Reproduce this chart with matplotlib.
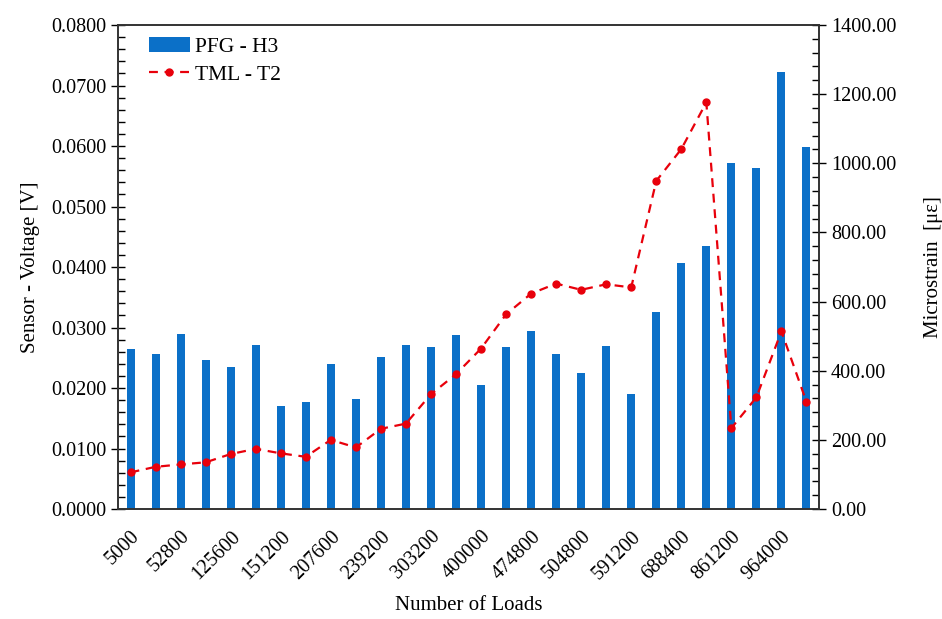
import matplotlib
matplotlib.use("Agg")
import matplotlib.pyplot as plt
import matplotlib.ticker as mticker
import numpy as np

plt.rcParams.update({
    "font.family": ["Liberation Serif", "DejaVu Serif"],
    "font.size": 14.5,
})

# sensor voltage (PFG - H3) and strain gauge (TML - T2) per load step
voltage = [0.0265, 0.0257, 0.0290, 0.0246, 0.0235, 0.0271, 0.0171, 0.0177,
           0.0239, 0.0181, 0.0251, 0.0271, 0.0267, 0.0288, 0.0205, 0.0267,
           0.0294, 0.0257, 0.0224, 0.0269, 0.0190, 0.0326, 0.0407, 0.0435,
           0.0572, 0.0563, 0.0722, 0.0598]
strain = [106, 122, 129, 135, 159, 174, 161, 151, 200, 178, 232, 247, 332, 390,
          464, 563, 623, 652, 634, 650, 641, 949, 1041, 1176, 234, 323, 514, 310]
load_labels = ["5000", "52800", "125600", "151200", "207600", "239200", "303200",
               "400000", "474800", "504800", "591200", "688400", "861200", "964000"]

BLUE = "#0B70C8"
RED = "#E8000B"

fig = plt.figure(figsize=(9.42, 6.19), dpi=100)
ax = fig.add_axes([0.1253, 0.1777, 0.8694 - 0.1253, 0.9596 - 0.1777])
x = np.arange(len(voltage))

ax.bar(x, voltage, width=0.32, color=BLUE, label="PFG - H3", zorder=2)
ax.set_xlim(-0.5, len(voltage) - 0.5)
ax.set_ylim(0, 0.08)
ax.yaxis.set_major_locator(mticker.MultipleLocator(0.01))
ax.yaxis.set_minor_locator(mticker.MultipleLocator(0.002))
ax.yaxis.set_major_formatter(mticker.FormatStrFormatter("%.4f"))
ax.tick_params(axis="y", which="major", direction="inout", length=10, width=1)
ax.tick_params(axis="y", which="minor", direction="in", length=5, width=1)
ax.set_xticks(x[::2])
ax.set_xticklabels(load_labels, rotation=45, ha="right", rotation_mode="anchor")
ax.tick_params(axis="x", length=0, pad=13)
ax.set_ylabel("Sensor - Voltage [V]", fontsize=15, labelpad=8)
ax.set_xlabel("Number of Loads", fontsize=15, labelpad=9)

ax2 = ax.twinx()
ax2.plot(x, strain, color=RED, linestyle=(0, (4, 3)), linewidth=1.6,
         marker="o", markersize=5, label="TML - T2", zorder=3)
ax2.set_ylim(0, 1400)
ax2.yaxis.set_major_locator(mticker.MultipleLocator(200))
ax2.yaxis.set_minor_locator(mticker.MultipleLocator(40))
ax2.yaxis.set_major_formatter(mticker.FormatStrFormatter("%.2f"))
ax2.tick_params(axis="y", which="major", direction="inout", length=10, width=1)
ax2.tick_params(axis="y", which="minor", direction="in", length=5, width=1)
ax2.set_ylabel("Microstrain  [με]", fontsize=15, labelpad=20)

for a in (ax, ax2):
    for s in a.spines.values():
        s.set_color("#333333")
        s.set_linewidth(1.2)

h1, l1 = ax.get_legend_handles_labels()
h2, l2 = ax2.get_legend_handles_labels()
ax.legend(h1 + h2, l1 + l2, loc="upper left", frameon=False, fontsize=15.5,
          bbox_to_anchor=(0.027, 1.0), handlelength=1.9, handletextpad=0.25,
          labelspacing=0.35, borderaxespad=0.15)

fig.savefig("out.png", dpi=100)
